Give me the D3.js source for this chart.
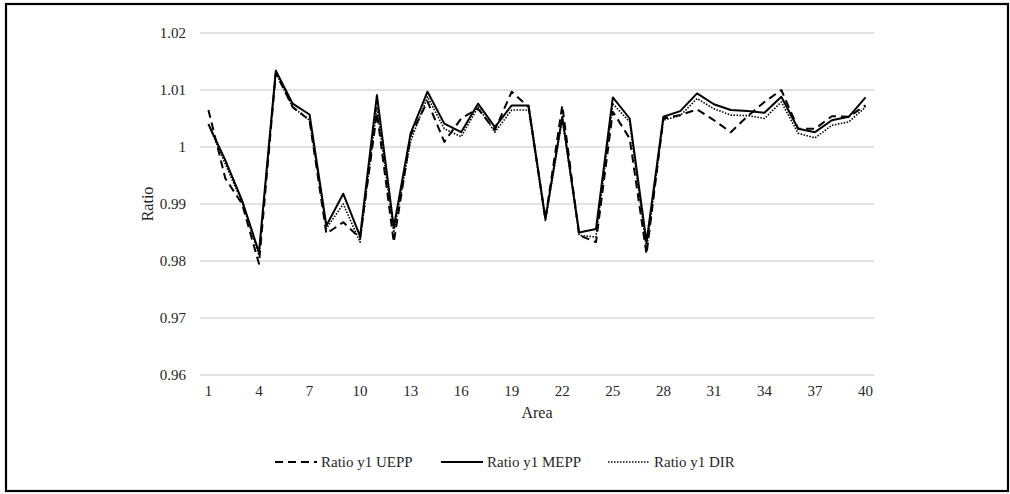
<!DOCTYPE html>
<html>
<head>
<meta charset="utf-8">
<script src="https://cdn.jsdelivr.net/npm/d3@7"></script>
<style>
  body { margin: 0; background: #fff; }
  svg text { font-family: "Liberation Serif", "Times New Roman", Tinos, "DejaVu Serif", serif !important; fill: #262626; }
</style>
</head>
<body>
<script>
// data
var areas = d3.range(1, 41);
var tickAreas = [1, 4, 7, 10, 13, 16, 19, 22, 25, 28, 31, 34, 37, 40];
var yTicks = [0.96, 0.97, 0.98, 0.99, 1, 1.01, 1.02];

var uepp = [1.0065, 0.9945, 0.9900, 0.9795, 1.0130, 1.0070, 1.0047, 0.9848, 0.9868, 0.9840,
            1.0060, 0.9833, 1.0020, 1.0080, 1.0009, 1.0050, 1.0067, 1.0030, 1.0097, 1.0070,
            0.9874, 1.0073, 0.9845, 0.9833, 1.0062, 1.0015, 0.9812, 1.0050, 1.0056, 1.0066,
            1.0047, 1.0026, 1.0054, 1.0079, 1.0100, 1.0032, 1.0032, 1.0054, 1.0053, 1.0073];
var mepp = [1.0040, 0.9977, 0.9906, 0.9815, 1.0134, 1.0076, 1.0057, 0.9862, 0.9918, 0.9843,
            1.0091, 0.9859, 1.0024, 1.0097, 1.0041, 1.0026, 1.0076, 1.0035, 1.0073, 1.0073,
            0.9874, 1.0053, 0.9850, 0.9856, 1.0087, 1.0050, 0.9833, 1.0053, 1.0063, 1.0094,
            1.0075, 1.0065, 1.0063, 1.0060, 1.0088, 1.0032, 1.0026, 1.0047, 1.0053, 1.0087];
var dir  = [1.0040, 0.9970, 0.9903, 0.9810, 1.0130, 1.0070, 1.0047, 0.9857, 0.9900, 0.9833,
            1.0070, 0.9850, 1.0010, 1.0088, 1.0032, 1.0018, 1.0070, 1.0026, 1.0065, 1.0065,
            0.9870, 1.0050, 0.9845, 0.9842, 1.0076, 1.0044, 0.9820, 1.0047, 1.0055, 1.0085,
            1.0067, 1.0056, 1.0055, 1.0050, 1.0079, 1.0024, 1.0016, 1.0038, 1.0044, 1.0070];

var series = [
  {name: "Ratio y1 UEPP", values: uepp, dash: "8,5", width: 2},
  {name: "Ratio y1 MEPP", values: mepp, dash: null, width: 2},
  {name: "Ratio y1 DIR", values: dir, dash: "1.5,1.5", width: 1.6}
];

var W = 1010, H = 494;
var svg = d3.select("body").append("svg")
    .attr("width", W)
    .attr("height", H);

// outer frame
svg.append("rect")
    .attr("x", 6).attr("y", 4)
    .attr("width", 1002).attr("height", 487)
    .attr("fill", "none")
    .attr("stroke", "#000")
    .attr("stroke-width", 2.2);

var plot = {left: 200, right: 874, top: 33, bottom: 375};

var x = d3.scaleBand().domain(areas).range([plot.left, plot.right]);
var y = d3.scaleLinear().domain([0.96, 1.02]).range([plot.bottom, plot.top]);

// gridlines
svg.append("g")
    .selectAll("line")
    .data(yTicks)
    .enter().append("line")
    .attr("x1", plot.left).attr("x2", plot.right)
    .attr("y1", function(d) { return y(d); })
    .attr("y2", function(d) { return y(d); })
    .attr("stroke", "#d9d9d9")
    .attr("stroke-width", 1.3);

// y axis labels
var yAxis = d3.axisLeft(y).tickValues(yTicks).tickSize(0).tickPadding(14)
    .tickFormat(function(d) { return d3.format("")(+d.toFixed(2)); });
var gy = svg.append("g")
    .attr("transform", "translate(" + plot.left + ",0)")
    .call(yAxis)
    .attr("font-family", null)
    .attr("font-size", null);
gy.select(".domain").remove();
gy.selectAll("text")
    .style("font-size", "15px")
    .attr("fill", "#262626");

// x axis labels
var xAxis = d3.axisBottom(x).tickValues(tickAreas).tickSize(0).tickPadding(10);
var gx = svg.append("g")
    .attr("transform", "translate(0," + plot.bottom + ")")
    .call(xAxis)
    .attr("font-family", null)
    .attr("font-size", null);
gx.select(".domain").remove();
gx.selectAll("text")
    .style("font-size", "15px")
    .attr("fill", "#262626");

// axis titles
svg.append("text")
    .attr("x", (plot.left + plot.right) / 2)
    .attr("y", 418)
    .attr("text-anchor", "middle")
    .style("font-size", "16px")
    .text("Area");

svg.append("text")
    .attr("transform", "translate(153," + ((plot.top + plot.bottom) / 2) + ") rotate(-90)")
    .attr("text-anchor", "middle")
    .style("font-size", "16px")
    .text("Ratio");

// lines
var line = d3.line()
    .x(function(d, i) { return x(areas[i]) + x.bandwidth() / 2; })
    .y(function(d) { return y(d); });

series.forEach(function(s) {
    svg.append("path")
        .datum(s.values)
        .attr("d", line)
        .attr("fill", "none")
        .attr("stroke", "#000")
        .attr("stroke-width", s.width)
        .attr("stroke-linejoin", "round")
        .attr("stroke-dasharray", s.dash);
});

// legend
var legendX = [275, 441, 608];
var leg = svg.append("g").selectAll("g")
    .data(series)
    .enter().append("g")
    .attr("transform", function(d, i) { return "translate(" + legendX[i] + ",462)"; });

leg.append("line")
    .attr("x1", 0).attr("x2", 42)
    .attr("y1", 0).attr("y2", 0)
    .attr("stroke", "#000")
    .attr("stroke-width", function(d) { return d.width; })
    .attr("stroke-dasharray", function(d) { return d.dash; });

leg.append("text")
    .attr("x", 46)
    .attr("y", 5)
    .style("font-size", "15px")
    .text(function(d) { return d.name; });
</script>
</body>
</html>
